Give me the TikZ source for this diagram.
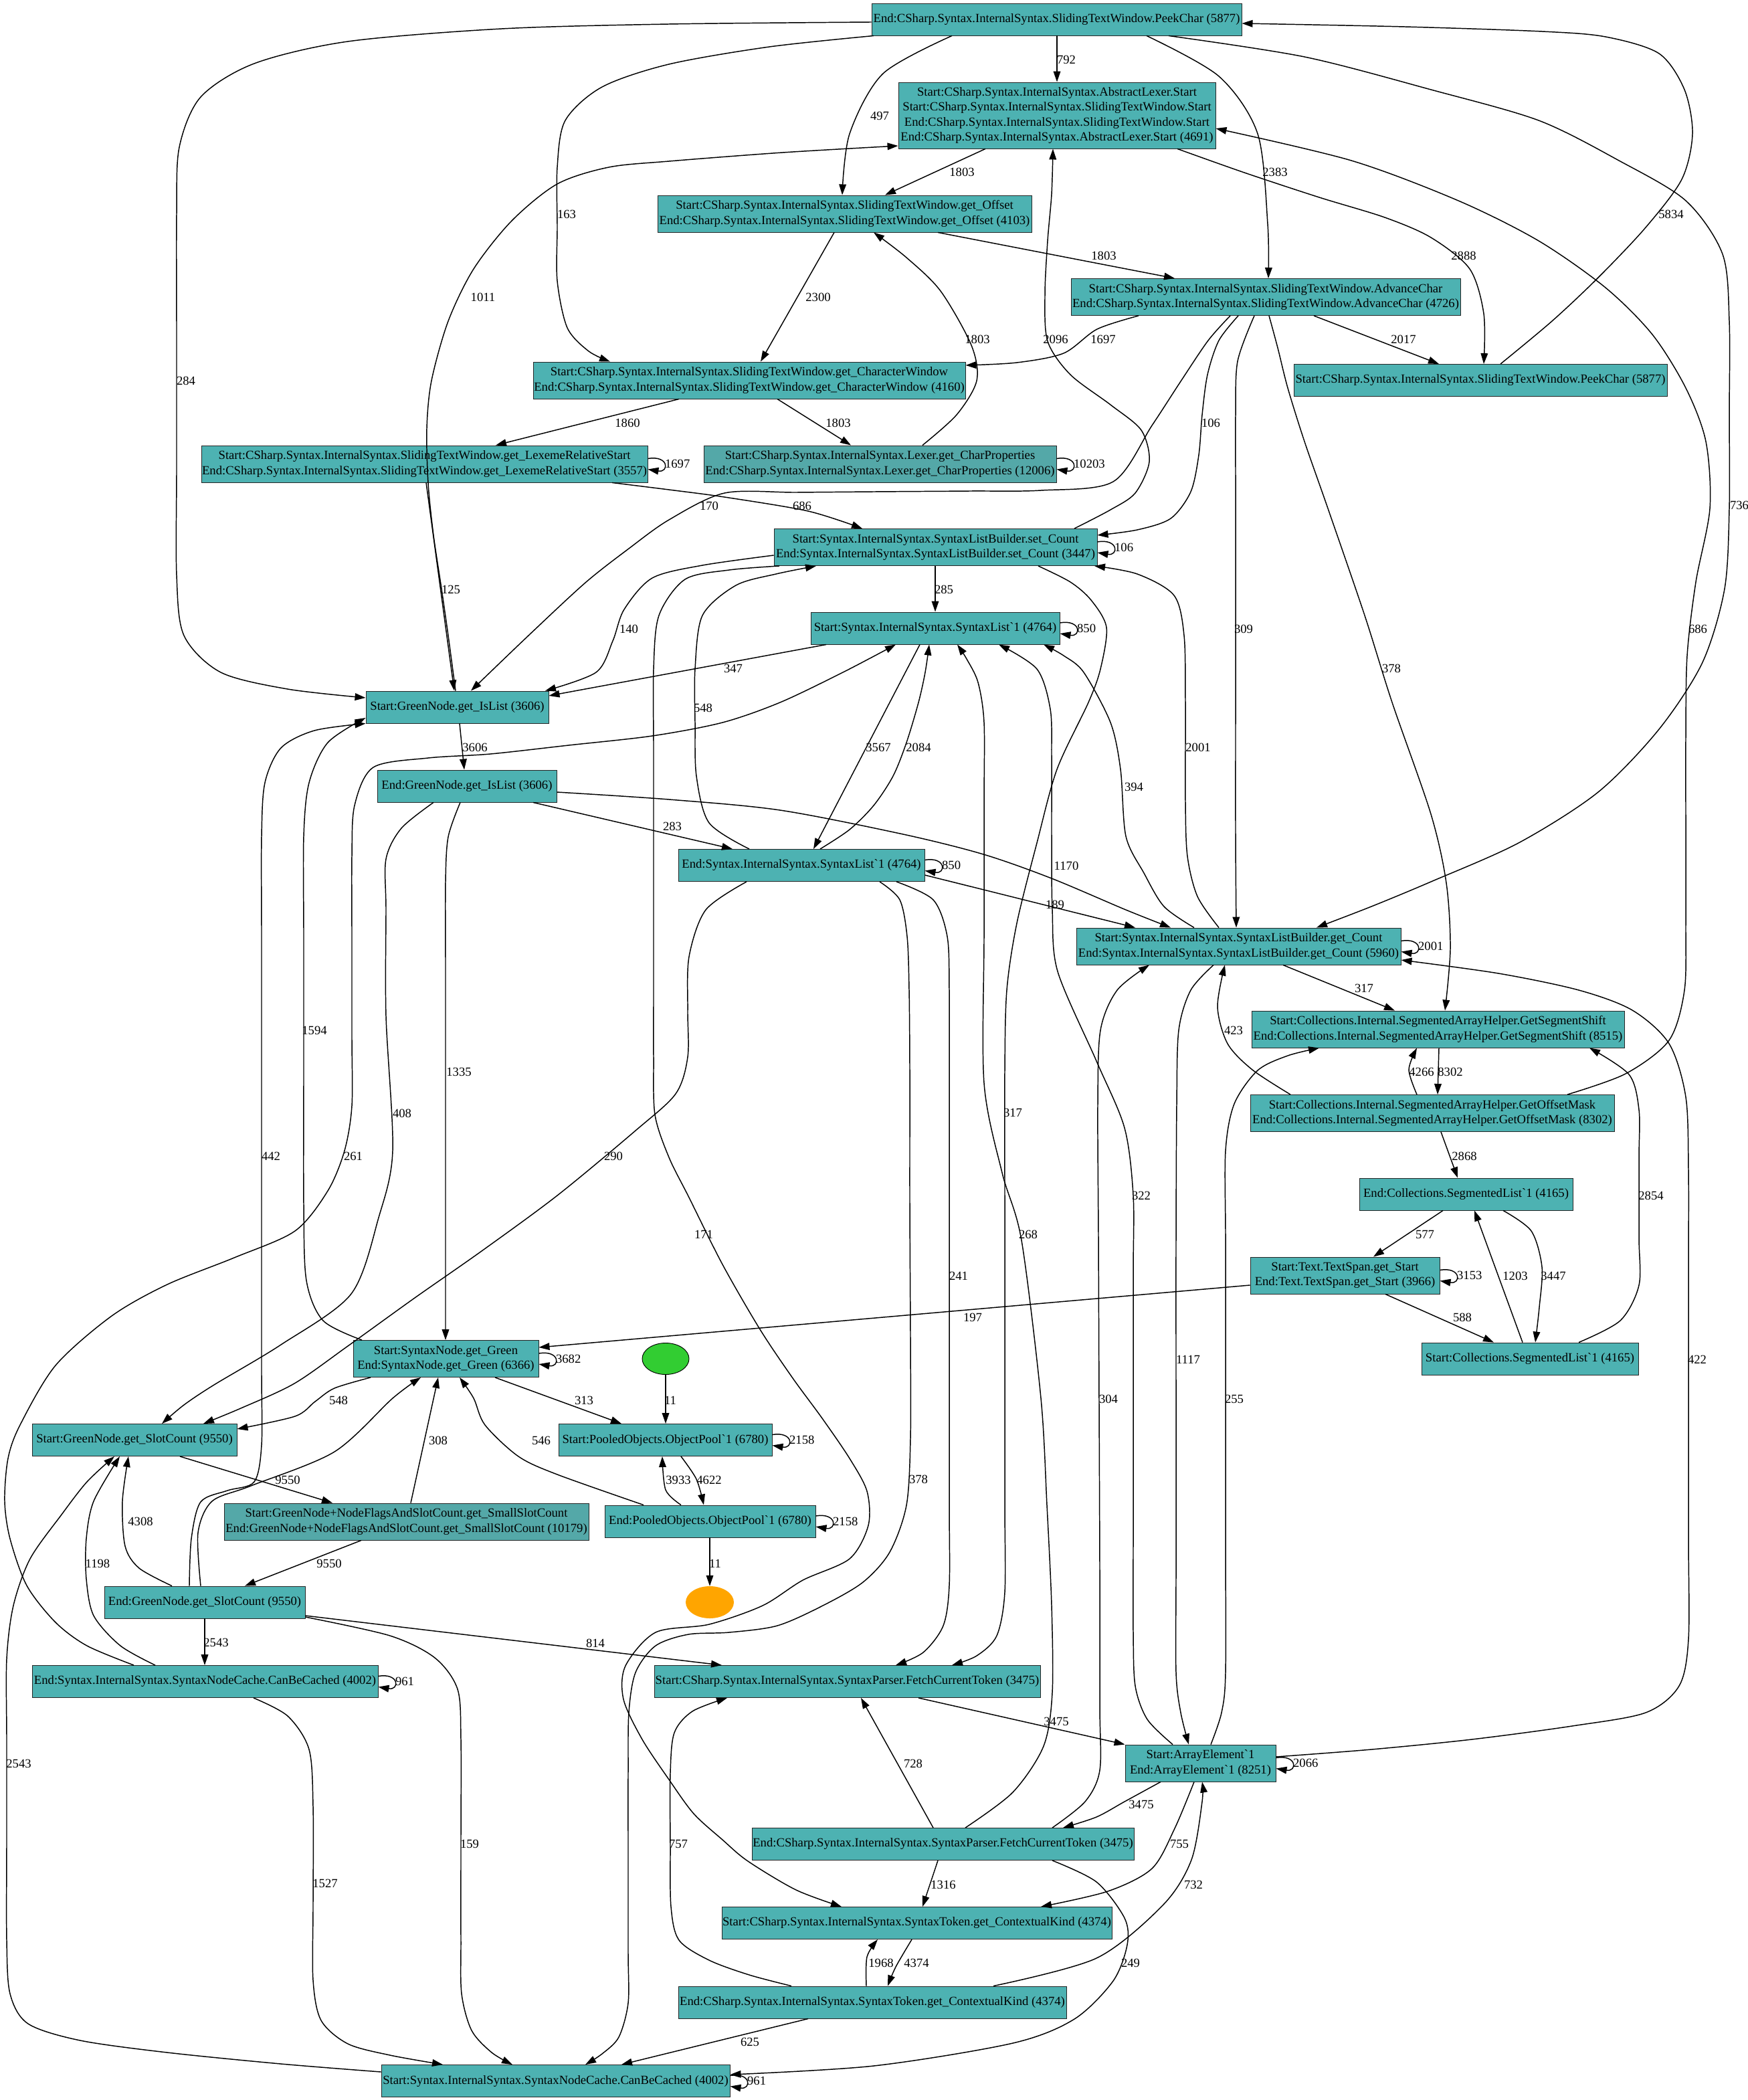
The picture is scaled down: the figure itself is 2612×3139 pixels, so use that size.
\documentclass[tikz,border=0pt]{standalone}
\usepackage{fontspec}
\newfontfamily\gvfont{Liberation Serif}
\usetikzlibrary{arrows.meta,calc,shapes.geometric}
\definecolor{nfill}{RGB}{77,178,178}
\definecolor{afill}{RGB}{84,168,168}
\definecolor{gfill}{RGB}{50,205,50}
\definecolor{ofill}{RGB}{255,165,0}
\tikzset{
  box/.style={draw=black!85, line width=0.7pt, fill=nfill, rectangle, inner sep=0pt,
              align=center, font=\gvfont\fontsize{14}{16.8}\selectfont},
  altfill/.style={fill=afill},
  h1/.style={minimum height=36pt},
  h2/.style={minimum height=41.25pt},
  h4/.style={minimum height=74.25pt},
  bw/.style={minimum width=#1*0.75pt},
  edg/.style={draw=black, line width=1.1pt, -{Triangle[length=12pt,width=8pt]}},
  lbl/.style={font=\gvfont\fontsize{14}{16.8}\selectfont, inner sep=0pt},
}
\newcounter{lbn}
\newcommand{\lab}[3]{\stepcounter{lbn}\node[lbl] (lab\arabic{lbn}) at (#1,#2) {#3};}
\newcommand{\selfloop}[2]{%
  \draw[edg] ([yshift=6pt]#1.east) .. controls +(24pt,4pt) and +(24pt,-4pt) .. ([yshift=-6pt]#1.east);
  \stepcounter{lbn}\node[lbl,anchor=west] (lab\arabic{lbn}) at ([xshift=19pt]#1.east) {#2};}

\begin{document}
\begin{tikzpicture}[x=0.75pt,y=-0.75pt]
\fill[white] (0,0) rectangle (2612,3139);
\useasboundingbox (0,0) rectangle (2612,3139);

% ---------------- nodes ----------------
\node[box,h1,bw=553] (endPeek) at (1579.5,29) {End:CSharp.Syntax.InternalSyntax.SlidingTextWindow.PeekChar (5877)};
\node[box,h4,bw=474] (absLexer) at (1580,172.5) {Start:CSharp.Syntax.InternalSyntax.AbstractLexer.Start\\Start:CSharp.Syntax.InternalSyntax.SlidingTextWindow.Start\\End:CSharp.Syntax.InternalSyntax.SlidingTextWindow.Start\\End:CSharp.Syntax.InternalSyntax.AbstractLexer.Start (4691)};
\node[box,h2,bw=559] (getOffset) at (1262.5,319.5) {Start:CSharp.Syntax.InternalSyntax.SlidingTextWindow.get\_Offset\\End:CSharp.Syntax.InternalSyntax.SlidingTextWindow.get\_Offset (4103)};
\node[box,h2,bw=582] (advChar) at (1892,444) {Start:CSharp.Syntax.InternalSyntax.SlidingTextWindow.AdvanceChar\\End:CSharp.Syntax.InternalSyntax.SlidingTextWindow.AdvanceChar (4726)};
\node[box,h1,bw=558] (startPeek) at (2213,568.5) {Start:CSharp.Syntax.InternalSyntax.SlidingTextWindow.PeekChar (5877)};
\node[box,h2,bw=646] (charWin) at (1120,568.5) {Start:CSharp.Syntax.InternalSyntax.SlidingTextWindow.get\_CharacterWindow\\End:CSharp.Syntax.InternalSyntax.SlidingTextWindow.get\_CharacterWindow (4160)};
\node[box,h2,bw=667] (lexRel) at (634.5,693.5) {Start:CSharp.Syntax.InternalSyntax.SlidingTextWindow.get\_LexemeRelativeStart\\End:CSharp.Syntax.InternalSyntax.SlidingTextWindow.get\_LexemeRelativeStart (3557)};
\node[box,altfill,h2,bw=527] (charProps) at (1315.5,693.5) {Start:CSharp.Syntax.InternalSyntax.Lexer.get\_CharProperties\\End:CSharp.Syntax.InternalSyntax.Lexer.get\_CharProperties (12006)};
\node[box,h2,bw=483] (setCount) at (1398.5,818) {Start:Syntax.InternalSyntax.SyntaxListBuilder.set\_Count\\End:Syntax.InternalSyntax.SyntaxListBuilder.set\_Count (3447)};
\node[box,h1,bw=372] (listStart) at (1398,939) {Start:Syntax.InternalSyntax.SyntaxList`1 (4764)};
\node[box,h1,bw=273] (isListStart) at (683.5,1057) {Start:GreenNode.get\_IsList (3606)};
\node[box,h1,bw=268] (isListEnd) at (698,1175) {End:GreenNode.get\_IsList (3606)};
\node[box,h1,bw=368] (listEnd) at (1198,1293.5) {End:Syntax.InternalSyntax.SyntaxList`1 (4764)};
\node[box,h2,bw=485] (getCount) at (1851.5,1414.5) {Start:Syntax.InternalSyntax.SyntaxListBuilder.get\_Count\\End:Syntax.InternalSyntax.SyntaxListBuilder.get\_Count (5960)};
\node[box,h2,bw=557] (segShift) at (2149.5,1538.5) {Start:Collections.Internal.SegmentedArrayHelper.GetSegmentShift\\End:Collections.Internal.SegmentedArrayHelper.GetSegmentShift (8515)};
\node[box,h2,bw=544] (offMask) at (2141,1664) {Start:Collections.Internal.SegmentedArrayHelper.GetOffsetMask\\End:Collections.Internal.SegmentedArrayHelper.GetOffsetMask (8302)};
\node[box,h1,bw=319] (segEnd) at (2191.5,1785) {End:Collections.SegmentedList`1 (4165)};
\node[box,h2,bw=283] (textSpan) at (2010.5,1906.5) {Start:Text.TextSpan.get\_Start\\End:Text.TextSpan.get\_Start (3966)};
\node[box,h1,bw=324] (segStart) at (2287,2031) {Start:Collections.SegmentedList`1 (4165)};
\node[box,h2,bw=277] (getGreen) at (666.5,2031) {Start:SyntaxNode.get\_Green\\End:SyntaxNode.get\_Green (6366)};
\node[ellipse, draw=black, line width=0.7pt, fill=gfill, minimum width=70*0.75pt, minimum height=47*0.75pt, inner sep=0pt] (entry) at (995,2031) {};
\node[box,h1,bw=306] (slotStart) at (201,2152.5) {Start:GreenNode.get\_SlotCount (9550)};
\node[box,h1,bw=319] (poolStart) at (994.5,2152.5) {Start:PooledObjects.ObjectPool`1 (6780)};
\node[box,altfill,h2,bw=545] (smallSlot) at (607.5,2274.5) {Start:GreenNode+NodeFlagsAndSlotCount.get\_SmallSlotCount\\End:GreenNode+NodeFlagsAndSlotCount.get\_SmallSlotCount (10179)};
\node[box,h1,bw=315] (poolEnd) at (1061.5,2274) {End:PooledObjects.ObjectPool`1 (6780)};
\node[ellipse, fill=ofill, minimum width=72*0.75pt, minimum height=48*0.75pt, inner sep=0pt] (exitpt) at (1061,2395) {};
\node[box,h1,bw=300] (slotEnd) at (306,2395) {End:GreenNode.get\_SlotCount (9550)};
\node[box,h1,bw=517] (cacheEnd) at (306.5,2513.5) {End:Syntax.InternalSyntax.SyntaxNodeCache.CanBeCached (4002)};
\node[box,h1,bw=577] (fetchStart) at (1266.5,2513.5) {Start:CSharp.Syntax.InternalSyntax.SyntaxParser.FetchCurrentToken (3475)};
\node[box,h2,bw=225] (arrElem) at (1794.5,2635.5) {Start:ArrayElement`1\\End:ArrayElement`1 (8251)};
\node[box,h1,bw=571] (fetchEnd) at (1409.5,2756.5) {End:CSharp.Syntax.InternalSyntax.SyntaxParser.FetchCurrentToken (3475)};
\node[box,h1,bw=583] (ctxStart) at (1370.5,2874.5) {Start:CSharp.Syntax.InternalSyntax.SyntaxToken.get\_ContextualKind (4374)};
\node[box,h1,bw=580] (ctxEnd) at (1304,2993) {End:CSharp.Syntax.InternalSyntax.SyntaxToken.get\_ContextualKind (4374)};
\node[box,h1,bw=521] (cacheStart) at (830.5,3110.5) {Start:Syntax.InternalSyntax.SyntaxNodeCache.CanBeCached (4002)};

% ---------------- edges ----------------
% from End:PeekChar
\draw[edg] plot[smooth] coordinates {(endPeek.west |- 0,33) (1000,36) (750,43) (520,62) (380,95) (300,145) (268,220) (264,320) (264,500) (264,700) (264,860) (275,950) (330,1005) (430,1030) (isListStart.west |- 0,1043)};
\draw[edg] plot[smooth] coordinates {(1306,0 |- endPeek.south) (1150,70) (1000,96) (900,130) (845,180) (833,250) (833,340) (833,420) (848,490) (880,525) (912,0 |- charWin.north)};
\draw[edg] plot[smooth] coordinates {(1423,0 |- endPeek.south) (1320,110) (1270,200) (1259,0 |- getOffset.north)};
\draw[edg] (1580,0 |- endPeek.south) -- (1580,0 |- absLexer.north);
\draw[edg] plot[smooth] coordinates {(1714,0 |- endPeek.south) (1822,114) (1880,200) (1895,335) (1896,0 |- advChar.north)};
\draw[edg] plot[smooth] coordinates {(1747,0 |- endPeek.south) (1950,85) (2139,134) (2300,180) (2420,240) (2520,300) (2575,380) (2585,480) (2585,620) (2585,760) (2578,880) (2545,990) (2480,1090) (2389,1184) (2270,1260) (2139,1318) (2050,1355) (1968,0 |- getCount.north)};
\draw[edg] plot[smooth] coordinates {(2243,0 |- startPeek.north) (2320,480) (2389,415) (2460,340) (2514,268) (2530,200) (2518,134) (2480,80) (2400,55) (2305,47) (2100,40) (endPeek.east |- 0,35)};
% AbstractLexer
\draw[edg] (1473,0 |- absLexer.south) -- (1323,0 |- getOffset.north);
\draw[edg] plot[smooth] coordinates {(1760,0 |- absLexer.south) (1860,258) (1972,295) (2070,325) (2139,355) (2197,402) (2218,469) (2218,0 |- startPeek.north)};
\draw[edg] plot[smooth] coordinates {(1606,0 |- setCount.north) (1660,762) (1697,737) (1718,690) (1706,643) (1660,605) (1600,560) (1566,510) (1562,440) (1566,360) (1572,290) (1574,0 |- absLexer.south)};
\draw[edg] plot[smooth] coordinates {(2343,0 |- offMask.north) (2430,1605) (2495,1555) (2518,1480) (2520,1380) (2520,1240) (2520,1100) (2522,980) (2535,870) (2556,760) (2550,660) (2520,580) (2470,500) (2400,430) (2300,360) (2180,300) (2020,240) (absLexer.east |- 0,192)};
\draw[edg] plot[smooth] coordinates {(681,0 |- isListStart.north) (670,950) (660,880) (648,800) (640,722) (638,640) (645,569) (670,480) (708,402) (765,330) (833,275) (910,250) (1000,241) (1170,228) (absLexer.west |- 0,218)};
% get_Offset / CharacterWindow / AdvanceChar
\draw[edg] (1247,0 |- getOffset.south) -- (1137,0 |- charWin.north);
\draw[edg] (1402,0 |- getOffset.south) -- (1756,0 |- advChar.north);
\draw[edg] plot[smooth] coordinates {(1379,0 |- charProps.north) (1430,620) (1460,569) (1452,516) (1406,435) (1355,385) (1306,0 |- getOffset.south)};
\draw[edg] plot[smooth] coordinates {(1702,0 |- advChar.south) (1640,492) (1590,528) (1520,542) (charWin.east |- 0,546)};
\draw[edg] (1964,0 |- advChar.south) -- (2151,0 |- startPeek.north);
\draw[edg] plot[smooth] coordinates {(1839,0 |- advChar.south) (1806,509) (1765,570) (1722,636) (1664,720) (1556,733) (1450,734) (1306,735) (1190,736) (1083,737) (1000,777) (940,820) (875,871) (790,950) (704,0 |- isListStart.north)};
\draw[edg] plot[smooth] coordinates {(1851,0 |- advChar.south) (1822,509) (1805,560) (1797,620) (1792,680) (1780,735) (1750,775) (1700,792) (setCount.east |- 0,800)};
\draw[edg] plot[smooth] coordinates {(1875,0 |- advChar.south) (1850,540) (1847,620) (1847,720) (1847,860) (1847,1050) (1847,1250) (1848,0 |- getCount.north)};
\draw[edg] plot[smooth] coordinates {(1897,0 |- advChar.south) (1910,520) (1925,580) (1950,660) (1985,760) (2040,920) (2081,1050) (2139,1217) (2162,1320) (2168,1418) (2160,0 |- segShift.north)};
\draw[edg] (1015,0 |- charWin.south) -- (741,0 |- lexRel.north);
\draw[edg] (1162,0 |- charWin.south) -- (1272,0 |- charProps.north);
% LexemeRelativeStart
\draw[edg] plot[smooth] coordinates {(915,0 |- lexRel.south) (1000,732) (1083,743) (1208,764) (1289,0 |- setCount.north)};
\draw[edg] (637,0 |- lexRel.south) -- (679,0 |- isListStart.north);
% set_Count
\draw[edg] (1398,0 |- setCount.south) -- (1398,0 |- listStart.north);
\draw[edg] plot[smooth] coordinates {(setCount.west |- 0,830) (1050,845) (975,864) (933,911) (916,958) (891,1005) (815,0 |- isListStart.north)};
\draw[edg] plot[smooth] coordinates {(1552,0 |- setCount.south) (1600,870) (1631,897) (1654,938) (1645,1000) (1627,1050) (1580,1150) (1550,1260) (1520,1380) (1505,1480) (1502,1600) (1502,1800) (1502,2050) (1502,2250) (1502,2380) (1490,2445) (1460,2475) (1423,0 |- fetchStart.north)};
\draw[edg] plot[smooth] coordinates {(1165,0 |- setCount.south) (1090,852) (1024,866) (985,920) (977,1000) (977,1120) (977,1300) (977,1480) (977,1580) (979,1666) (1000,1730) (1030,1790) (1080,1890) (1136,1987) (1185,2060) (1229,2120) (1270,2180) (1296,2229) (1298,2280) (1270,2330) (1200,2362) (1140,2400) (1060,2428) (980,2440) (935,2490) (932,2540) (960,2600) (1000,2660) (1037,2711) (1080,2750) (1118,2782) (1190,2825) (1258,0 |- ctxStart.north)};
% SyntaxList`1
\draw[edg] (1235,0 |- listStart.south) -- (isListStart.east |- 0,1040);
\draw[edg] (1375,0 |- listStart.south) -- (1216,0 |- listEnd.north);
\draw[edg] plot[smooth] coordinates {(1226,0 |- listEnd.north) (1270,1240) (1306,1204) (1335,1160) (1355,1110) (1373,1050) (1383,1005) (1389,0 |- listStart.south)};
\draw[edg] plot[smooth] coordinates {(1120,0 |- listEnd.north) (1060,1230) (1041,1160) (1039,1080) (1039,1000) (1050,920) (1100,875) (1160,858) (1220,0 |- setCount.south)};
\draw[edg] (listEnd.east |- 0,1308) -- (1697,0 |- getCount.north);
\draw[edg] plot[smooth] coordinates {(1116,0 |- listEnd.south) (1055,1360) (1030,1430) (1028,1510) (1028,1580) (1010,1635) (950,1690) (833,1787) (720,1870) (620,1940) (520,2012) (440,2068) (360,2105) (304,0 |- slotStart.north)};
\draw[edg] plot[smooth] coordinates {(1340,0 |- listEnd.south) (1395,1345) (1416,1400) (1419,1480) (1419,1600) (1419,1800) (1419,2050) (1419,2250) (1419,2370) (1410,2430) (1380,2470) (1339,0 |- fetchStart.north)};
\draw[edg] plot[smooth] coordinates {(1315,0 |- listEnd.south) (1345,1345) (1356,1400) (1359,1480) (1360,1600) (1360,1800) (1361,2000) (1361,2150) (1355,2250) (1330,2320) (1290,2365) (1230,2400) (1162,2430) (1090,2440) (1029,2443) (980,2460) (950,2500) (940,2560) (939,2650) (939,2780) (939,2920) (939,2994) (925,3045) (900,3070) (875,0 |- cacheStart.north)};
% get_IsList
\draw[edg] (687,0 |- isListStart.south) -- (694,0 |- isListEnd.north);
\draw[edg] (797,0 |- isListEnd.south) -- (1095,0 |- listEnd.north);
\draw[edg] plot[smooth] coordinates {(isListEnd.east |- 0,1184) (1000,1195) (1166,1211) (1350,1247) (1470,1277) (1572,1313) (1683,1360) (1750,0 |- getCount.north)};
\draw[edg] plot[smooth] coordinates {(648,0 |- isListEnd.south) (600,1238) (577,1284) (577,1360) (577,1519) (587,1720) (566,1820) (525,1934) (420,2010) (320,2070) (275,2100) (242,0 |- slotStart.north)};
\draw[edg] plot[smooth] coordinates {(688,0 |- isListEnd.south) (670,1251) (666,1318) (666,1450) (666,1650) (666,1850) (666,0 |- getGreen.north)};
% get_Count
\draw[edg] plot[smooth] coordinates {(1822,0 |- getCount.north) (1790,1340) (1775,1280) (1772,1200) (1772,1050) (1770,950) (1755,890) (1700,858) (1636,0 |- setCount.south)};
\draw[edg] plot[smooth] coordinates {(1785,0 |- getCount.north) (1740,1355) (1710,1305) (1683,1250) (1675,1150) (1660,1080) (1620,1005) (1590,980) (1560,0 |- listStart.south)};
\draw[edg] (1918,0 |- getCount.south) -- (2085,0 |- segShift.north);
\draw[edg] plot[smooth] coordinates {(1814,0 |- getCount.south) (1780,1480) (1762,1540) (1759,1650) (1758,1850) (1758,2100) (1758,2350) (1758,2500) (1765,2560) (1777,0 |- arrElem.north)};
% segmented list helpers
\draw[edg] plot[smooth] coordinates {(1929,0 |- offMask.north) (1872,1599) (1835,1560) (1820,1505) (1831,0 |- getCount.south)};
\draw[edg] plot[smooth] coordinates {(2118,0 |- offMask.north) (2106,1599) (2118,0 |- segShift.south)};
\draw[edg] (2151,0 |- segShift.south) -- (2149,0 |- offMask.north);
\draw[edg] (2154,0 |- offMask.south) -- (2179,0 |- segEnd.north);
\draw[edg] (2157,0 |- segEnd.south) -- (2053,0 |- textSpan.north);
\draw[edg] (2071,0 |- textSpan.south) -- (2233,0 |- segStart.north);
\draw[edg] (2276,0 |- segStart.north) -- (2204,0 |- segEnd.south);
\draw[edg] plot[smooth] coordinates {(2247,0 |- segEnd.south) (2289,1840) (2305,1894) (2301,1954) (2295,0 |- segStart.north)};
\draw[edg] plot[smooth] coordinates {(2360,0 |- segStart.north) (2422,1974) (2450,1921) (2450,1850) (2450,1730) (2450,1659) (2435,1606) (2376,0 |- segShift.south)};
\draw[edg] (textSpan.west |- 0,1921) -- (getGreen.east |- 0,2014);
% get_Green
\draw[edg] plot[smooth] coordinates {(554,0 |- getGreen.south) (500,2075) (471,2095) (441,2117) (slotStart.east |- 0,2136)};
\draw[edg] plot[smooth] coordinates {(541,0 |- getGreen.north) (483,1974) (458,1914) (454,1800) (454,1600) (454,1400) (454,1250) (462,1170) (490,1110) (isListStart.west |- 0,1073)};
\draw[edg] (740,0 |- getGreen.south) -- (929,0 |- poolStart.north);
\draw[edg] (614,0 |- smallSlot.north) -- (655,0 |- getGreen.south);
\draw[edg] plot[smooth] coordinates {(962,0 |- poolEnd.north) (833,2204) (775,2177) (725,2130) (708,2090) (687,0 |- getGreen.south)};
\draw[edg] plot[smooth] coordinates {(300,0 |- slotEnd.north) (296,2291) (317,2244) (375,2221) (500,2170) (587,2090) (629,0 |- getGreen.south)};
% object pool
\draw[edg] (entry.south) -- (995,0 |- poolStart.north);
\draw[edg] plot[smooth] coordinates {(1018,0 |- poolEnd.north) (995,2227) (990,0 |- poolStart.south)};
\draw[edg] plot[smooth] coordinates {(1018,0 |- poolStart.south) (1041,2211) (1052,0 |- poolEnd.north)};
\draw[edg] (1061,0 |- poolEnd.south) -- (exitpt.north);
% slot count
\draw[edg] (269,0 |- slotStart.south) -- (497,0 |- smallSlot.north);
\draw[edg] (540,0 |- smallSlot.south) -- (366,0 |- slotEnd.north);
\draw[edg] plot[smooth] coordinates {(257,0 |- slotEnd.north) (208,2344) (187,2311) (183,2244) (192,0 |- slotStart.south)};
\draw[edg] plot[smooth] coordinates {(283,0 |- slotEnd.north) (286,2300) (300,2245) (340,2228) (380,2215) (391,2160) (391,2050) (391,1850) (391,1600) (391,1400) (391,1250) (396,1170) (420,1118) (470,1092) (isListStart.south west)};
\draw[edg] (306,0 |- slotEnd.south) -- (306,0 |- cacheEnd.north);
\draw[edg] (slotEnd.east |- 0,2415) -- (1079,0 |- fetchStart.north);
\draw[edg] plot[smooth] coordinates {(slotEnd.east |- 0,2417) (583,2445) (650,2478) (684,2525) (689,2600) (689,2750) (689,2900) (690,2980) (705,3035) (735,3068) (766,0 |- cacheStart.north)};
% CanBeCached
\draw[edg] plot[smooth] coordinates {(232,0 |- cacheEnd.north) (180,2460) (140,2415) (129,2360) (129,2300) (140,2244) (179,0 |- slotStart.south)};
\draw[edg] plot[smooth] coordinates {(200,0 |- cacheEnd.north) (130,2460) (83,2425) (40,2370) (15,2300) (7,2244) (12,2180) (30,2130) (83,2041) (167,1967) (250,1920) (350,1880) (441,1840) (490,1780) (515,1720) (526,1653) (526,1550) (526,1400) (526,1280) (530,1204) (558,1147) (640,1133) (733,1127) (850,1114) (975,1100) (1080,1080) (1166,1050) (1260,1005) (1339,0 |- listStart.south)};
\draw[edg] plot[smooth] coordinates {(379,0 |- cacheEnd.south) (430,2565) (462,2615) (468,2700) (468,2850) (468,2960) (480,3020) (520,3055) (583,3072) (662,0 |- cacheStart.north)};
\draw[edg] plot[smooth] coordinates {(cacheStart.west |- 0,3097) (420,3085) (250,3068) (120,3050) (42,3025) (15,2980) (10,2900) (10,2750) (10,2600) (10,2480) (20,2400) (45,2330) (92,2264) (130,2215) (171,0 |- slotStart.south)};
% FetchCurrentToken / ArrayElement
\draw[edg] (1373,0 |- fetchStart.south) -- (arrElem.north west);
\draw[edg] plot[smooth] coordinates {(1735,0 |- arrElem.south) (1681,2693) (1639,2716) (1589,0 |- fetchEnd.north)};
\draw[edg] plot[smooth] coordinates {(1753,0 |- arrElem.north) (1715,2570) (1697,2520) (1694,2440) (1694,2300) (1694,2100) (1694,1900) (1694,1787) (1681,1686) (1639,1586) (1581,1452) (1573,1360) (1572,1250) (1572,1130) (1570,1060) (1550,1000) (1493,0 |- listStart.south)};
\draw[edg] plot[smooth] coordinates {(1810,0 |- arrElem.north) (1826,2560) (1832,2500) (1832,2300) (1832,2050) (1832,1850) (1832,1720) (1845,1650) (1880,1600) (1925,1578) (1972,0 |- segShift.south)};
\draw[edg] plot[smooth] coordinates {(arrElem.east |- 0,2626) (2050,2615) (2200,2600) (2350,2580) (2460,2560) (2510,2520) (2524,2450) (2524,2300) (2524,2100) (2524,1900) (2524,1750) (2520,1640) (2495,1560) (2440,1510) (2360,1480) (2240,1455) (getCount.east |- 0,1435)};
\draw[edg] plot[smooth] coordinates {(1785,0 |- arrElem.south) (1756,2733) (1722,2793) (1656,2827) (1556,0 |- ctxStart.north)};
\draw[edg] (1395,0 |- fetchEnd.north) -- (1287,0 |- fetchStart.south);
\draw[edg] plot[smooth] coordinates {(1443,0 |- fetchEnd.north) (1514,2679) (1560,2610) (1573,2530) (1572,2400) (1565,2250) (1556,2090) (1527,1854) (1498,1753) (1471,1619) (1471,1400) (1471,1200) (1471,1080) (1462,1020) (1445,985) (1431,0 |- listStart.south)};
\draw[edg] plot[smooth] coordinates {(1573,0 |- fetchEnd.north) (1622,2693) (1644,2646) (1644,2550) (1644,2350) (1643,2100) (1642,1850) (1641,1650) (1645,1540) (1670,1480) (1718,0 |- getCount.south)};
\draw[edg] (1402,0 |- fetchEnd.south) -- (1379,0 |- ctxStart.north);
\draw[edg] plot[smooth] coordinates {(1573,0 |- fetchEnd.south) (1639,2813) (1681,2867) (1685,2907) (1664,2961) (1606,3018) (1514,3054) (1306,3088) (cacheStart.east |- 0,3101)};
% ContextualKind
\draw[edg] plot[smooth] coordinates {(1363,0 |- ctxStart.south) (1339,2940) (1327,0 |- ctxEnd.north)};
\draw[edg] plot[smooth] coordinates {(1295,0 |- ctxEnd.north) (1296,2925) (1312,0 |- ctxStart.south)};
\draw[edg] plot[smooth] coordinates {(1183,0 |- ctxEnd.north) (1120,2952) (1060,2930) (1015,2900) (1003,2850) (1002,2760) (1002,2650) (1008,2590) (1035,2558) (1087,0 |- fetchStart.south)};
\draw[edg] plot[smooth] coordinates {(1485,0 |- ctxEnd.north) (1639,2927) (1739,2847) (1781,2780) (1797,2693) (1797,0 |- arrElem.south)};
\draw[edg] (1208,0 |- ctxEnd.south) -- (929,0 |- cacheStart.north);

% self loops
\selfloop{lexRel}{1697}
\selfloop{charProps}{10203}
\selfloop{setCount}{106}
\selfloop{listStart}{850}
\selfloop{listEnd}{850}
\selfloop{getCount}{2001}
\selfloop{textSpan}{3153}
\selfloop{getGreen}{3682}
\selfloop{poolStart}{2158}
\selfloop{poolEnd}{2158}
\selfloop{cacheEnd}{961}
\selfloop{cacheStart}{961}
\selfloop{arrElem}{2066}

% ---------------- edge labels ----------------
\lab{278}{569}{284}
\lab{847}{320}{163}
\lab{1315}{173}{497}
\lab{1594}{89}{792}
\lab{1906}{257}{2383}
\lab{2600}{755}{736}
\lab{2498}{320}{5834}
\lab{1438}{257}{1803}
\lab{2188}{382}{2888}
\lab{1578}{507}{2096}
\lab{2538}{940}{686}
\lab{722}{444}{1011}
\lab{1223}{444}{2300}
\lab{1650}{382}{1803}
\lab{1461}{507}{1803}
\lab{1649}{507}{1697}
\lab{2098}{507}{2017}
\lab{1060}{756}{170}
\lab{1810}{632}{106}
\lab{1859}{940}{309}
\lab{2080}{999}{378}
\lab{938}{632}{1860}
\lab{1253}{632}{1803}
\lab{1199}{756}{686}
\lab{674}{881}{125}
\lab{1411}{881}{285}
\lab{940}{940}{140}
\lab{1514}{1663}{317}
\lab{1052}{1845}{171}
\lab{1096}{999}{347}
\lab{1313}{1117}{3567}
\lab{1373}{1117}{2084}
\lab{1051}{1058}{548}
\lab{1577}{1352}{189}
\lab{917}{1728}{290}
\lab{1433}{1907}{241}
\lab{1373}{2211}{378}
\lab{710}{1117}{3606}
\lab{1005}{1235}{283}
\lab{1594}{1294}{1170}
\lab{601}{1664}{408}
\lab{686}{1602}{1335}
\lab{1791}{1117}{2001}
\lab{1695}{1176}{394}
\lab{2039}{1477}{317}
\lab{1776}{2032}{1117}
\lab{1844}{1540}{423}
\lab{2125}{1602}{4266}
\lab{2168}{1602}{8302}
\lab{2189}{1728}{2868}
\lab{2130}{1845}{577}
\lab{2186}{1969}{588}
\lab{2265}{1907}{1203}
\lab{2322}{1907}{3447}
\lab{2468}{1787}{2854}
\lab{1454}{1969}{197}
\lab{506}{2093}{548}
\lab{470}{1540}{1594}
\lab{873}{2093}{313}
\lab{655}{2153}{308}
\lab{809}{2153}{546}
\lab{1002}{2093}{11}
\lab{1014}{2212}{3933}
\lab{1060}{2212}{4622}
\lab{1069}{2337}{11}
\lab{430}{2212}{9550}
\lab{492}{2337}{9550}
\lab{210}{2274}{4308}
\lab{405}{1728}{442}
\lab{323}{2455}{2543}
\lab{890}{2456}{814}
\lab{702}{2756}{159}
\lab{146}{2337}{1198}
\lab{528}{1728}{261}
\lab{486}{2815}{1527}
\lab{28}{2636}{2543}
\lab{1579}{2573}{3475}
\lab{1706}{2697}{3475}
\lab{1706}{1787}{322}
\lab{1845}{2091}{255}
\lab{2537}{2032}{422}
\lab{1763}{2756}{755}
\lab{1365}{2636}{728}
\lab{1537}{1845}{268}
\lab{1657}{2091}{304}
\lab{1410}{2817}{1316}
\lab{1690}{2934}{249}
\lab{1370}{2934}{4374}
\lab{1317}{2934}{1968}
\lab{1014}{2756}{757}
\lab{1784}{2817}{732}
\lab{1121}{3052}{625}
\end{tikzpicture}
\end{document}
